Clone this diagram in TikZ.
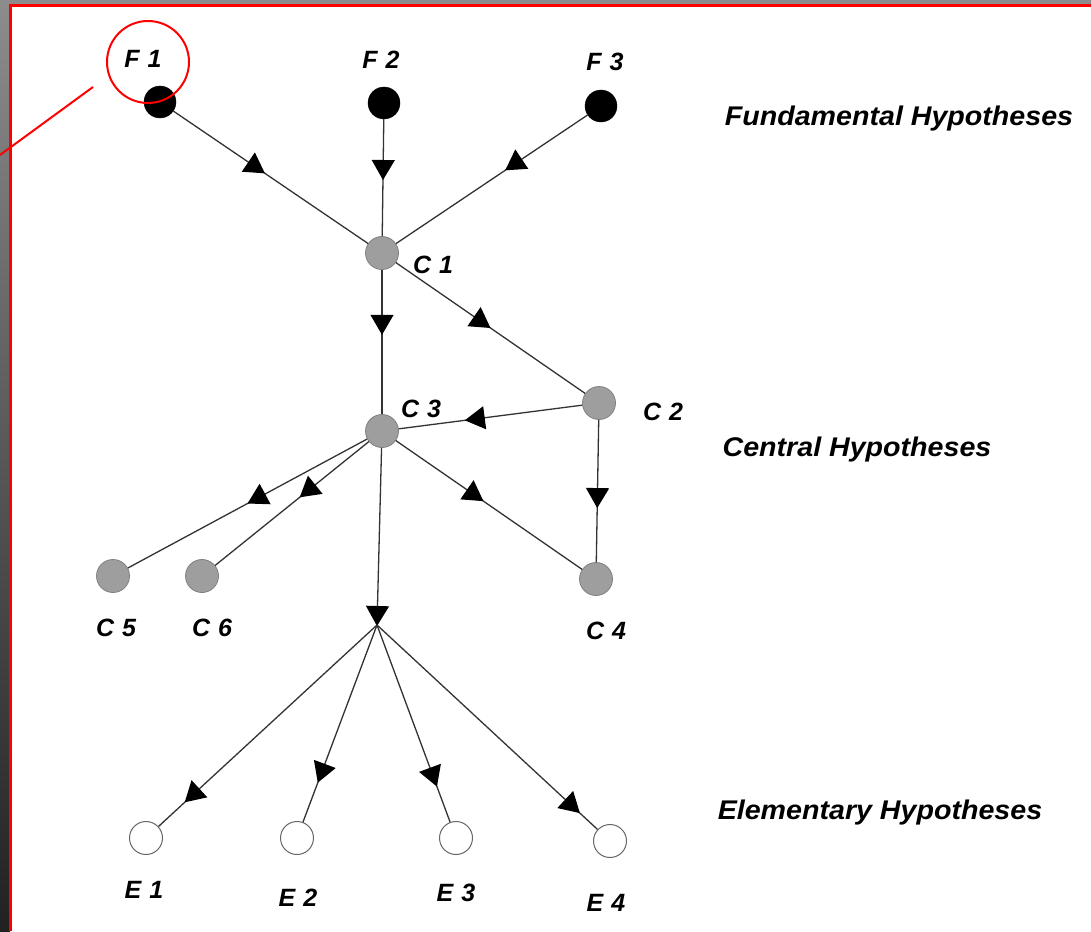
\documentclass[tikz,border=0pt]{standalone}
\usepackage{fontspec}
\setmainfont{Liberation Sans}
\usetikzlibrary{arrows.meta,decorations.markings}
\tikzset{
  lbl/.style={font=\fontsize{25}{28}\selectfont\bfseries\itshape, inner sep=0pt},
  hyp/.style={font=\fontsize{27}{30}\selectfont\bfseries\itshape, inner sep=0pt, xscale=1.06},
  fnode/.style={circle, fill=black, draw=black, minimum size=32pt, inner sep=0pt},
  cnode/.style={circle, fill=black!38, draw=black!50, line width=0.8pt, minimum size=33pt, inner sep=0pt},
  enode/.style={circle, fill=white, draw=black!60, line width=1pt, minimum size=33pt, inner sep=0pt},
  edge/.style={draw=black!80, line width=1.3pt},
  arrowat/.style={edge, postaction={decorate}, decoration={markings,
     mark=at position #1 with {\arrow[black]{Triangle[length=20pt,width=23pt]}}}},
  tipend/.style={edge, -{Triangle[length=20pt,width=23pt,color=black]}, shorten >=-1pt}
}
\begin{document}
\begin{tikzpicture}[x=1pt,y=-1pt]
\useasboundingbox (0,0) rectangle (1091,931);
\fill[white] (0,0) rectangle (1091,931);
% frame decorations
\shade[top color=black!45, bottom color=black!87] (0,0) rectangle (10,931);
\fill[black!45] (0,0) rectangle (1091,4);
\fill[red] (9,4) rectangle (12,931);
\fill[red] (9,4) rectangle (1091,7);

% nodes
\node[fnode] (F1) at (160,102) {};
\node[fnode] (F2) at (384,103) {};
\node[fnode] (F3) at (601,106) {};
\node[cnode] (C1) at (382,253) {};
\node[cnode] (C2) at (599,403) {};
\node[cnode] (C3) at (382,431) {};
\node[cnode] (C4) at (596,579) {};
\node[cnode] (C5) at (113,576) {};
\node[cnode] (C6) at (202,576) {};
\coordinate (J) at (377,625);
\node[enode] (E1) at (146,838) {};
\node[enode] (E2) at (297,838) {};
\node[enode] (E3) at (456,838) {};
\node[enode] (E4) at (610,841) {};

% labels
\node[lbl] (lF1) at (143,59) {F\hspace{8pt}1};
\node[lbl] (lF2) at (381,60) {F\hspace{8pt}2};
\node[lbl] (lF3) at (605,62) {F\hspace{8pt}3};
\node[lbl] (lC1) at (433,265) {C\hspace{8pt}1};
\node[lbl] (lC2) at (663,412) {C\hspace{8pt}2};
\node[lbl] (lC3) at (421,409) {C\hspace{8pt}3};
\node[lbl] (lC4) at (606,631) {C\hspace{8pt}4};
\node[lbl] (lC5) at (116,628) {C\hspace{8pt}5};
\node[lbl] (lC6) at (212,628) {C\hspace{8pt}6};
\node[lbl] (lE1) at (144,890) {E\hspace{8pt}1};
\node[lbl] (lE2) at (298,898) {E\hspace{8pt}2};
\node[lbl] (lE3) at (456,893) {E\hspace{8pt}3};
\node[lbl] (lE4) at (606,903) {E\hspace{8pt}4};
\node[hyp] (hF) at (899,119) {Fundamental Hypotheses};
\node[hyp] (hC) at (857,450) {Central Hypotheses};
\node[hyp] (hE) at (880,813) {Elementary Hypotheses};

% edges
\path[arrowat=0.47] (F1) -- (C1);
\path[arrowat=0.52] (F2) -- (C1);
\path[arrowat=0.43] (F3) -- (C1);
\path[arrowat=0.45] (C1) -- (C3);
\path[arrowat=0.50] (C1) -- (C2);
\path[arrowat=0.64] (C2) -- (C3);
\path[arrowat=0.50] (C3) -- (C5);
\path[arrowat=0.45] (C3) -- (C6);
\path[arrowat=0.47] (C3) -- (C4);
\path[arrowat=0.62] (C2) -- (C4);
\path[tipend] (C3) -- (J);
\path[arrowat=0.88] (J) -- (E1);
\path[arrowat=0.80] (J) -- (E2);
\path[arrowat=0.82] (J) -- (E3);
\path[arrowat=0.92] (J) -- (E4);

% annotation
\node[circle, draw=red, line width=2pt, minimum size=82pt, inner sep=0pt] (ring) at (148,62) {};
\coordinate (astart) at (93,87);
\coordinate (aend) at (0,155);
\draw[red, line width=2pt] (astart) -- (aend);
\end{tikzpicture}
\end{document}
